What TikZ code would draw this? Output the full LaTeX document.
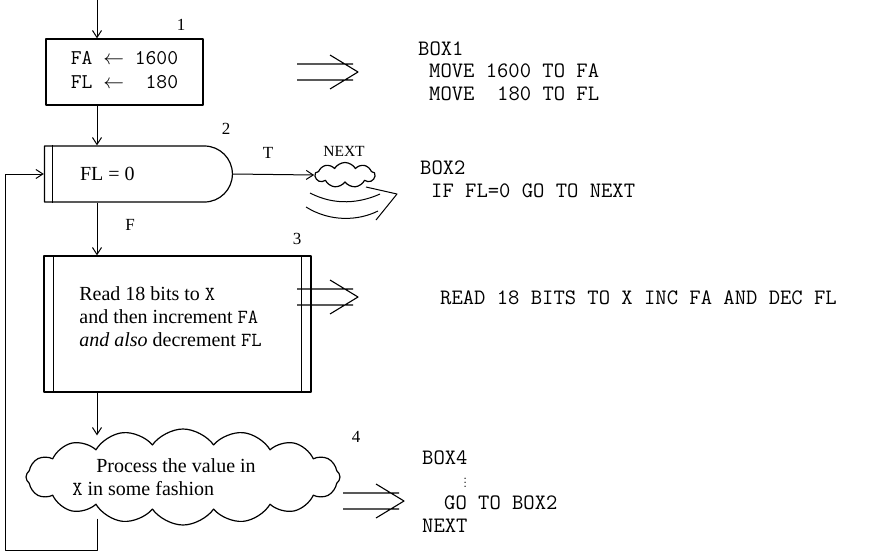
\documentclass[tikz,border=0pt]{standalone}
\usepackage{fontspec}
\setmainfont{Liberation Serif}
\usetikzlibrary{arrows.meta,shapes.misc,shapes.symbols}

\tikzset{
  box/.style={draw, line width=1.2pt, rectangle, inner sep=0pt},
  test/.style={draw, line width=1.2pt, rounded rectangle, rounded rectangle west arc=none, inner sep=0pt},
  blob/.style={draw, line width=1.2pt, cloud, cloud ignores aspect, inner sep=0pt},
  flow/.style={line width=1pt, ->},
  num/.style={font=\fontsize{17}{17}\selectfont, inner sep=0pt},
  code/.style={font=\fontsize{22}{22.5}\ttfamily, anchor=base west, align=left, inner sep=0pt},
}

\begin{document}
\begin{tikzpicture}[x=1pt, y=-1pt, >={Straight Barb[length=7pt,width=9pt]}, line join=round, font=\fontsize{20}{23}\selectfont]
                \useasboundingbox (0,0) rectangle (869,552);
                \coordinate (spine) at (97,0);
                % flow chart
                \node[box, minimum width=157, minimum height=66, font=\fontsize{21}{24}\ttfamily] (box1) at (124.5,72)
                    {\begin{tabular}{@{}l@{\ }c@{\ }r@{}}FA & $\leftarrow$ & 1600\\ FL & $\leftarrow$ & 180\end{tabular}};
                \node[test, minimum width=188, minimum height=56] (box2) at (138,174) {\makebox[116pt][l]{FL = 0}};
                \draw[line width=1.2pt] ([xshift=9pt]box2.north west) -- ([xshift=9pt]box2.south west);
                \node[box, minimum width=267, minimum height=136, align=left] (box3) at (177.5,324)
                    {Read 18 bits to \texttt{X}\\ and then increment \texttt{FA}\\ \textit{and also} decrement \texttt{FL}\hspace*{14pt}\mbox{}\\[-9pt]\mbox{}};
                \draw[line width=1.2pt] ([xshift=10pt]box3.north west) -- ([xshift=10pt]box3.south west);
                \draw[line width=1.2pt] ([xshift=-10pt]box3.north east) -- ([xshift=-10pt]box3.south east);
                \node[blob, cloud puffs=16, cloud puff arc=110, minimum width=314, minimum height=96, align=left] (proc) at (183,477)
                    {\hspace*{24pt}Process the value in\hspace*{38pt}\mbox{}\\ \texttt{X} in some fashion};
                \node[blob, cloud puffs=9, cloud puff arc=120, minimum width=60, minimum height=25] (next) at (345,175) {};
                % labels
                \node[num] (l1) at (181,25) {1};
                \node[num] (l2) at (226,129) {2};
                \node[num] (l3) at (297,239) {3};
                \node[num] (l4) at (356,437) {4};
                \node[num] (lt) at (268,153) {T};
                \node[num] (lf) at (130,225) {F};
                \node[num, font=\fontsize{15.5}{16}\selectfont] (lnext) at (344,151) {NEXT};
                % connectors
                \coordinate (entry) at (97,0);
                \coordinate (loop) at (5,550);
                \draw[flow] (entry) -- (box1.north -| spine);
                \draw[flow] (box1.south -| spine) -- (box2.north -| spine);
                \draw[flow] (box2.east) -- (next.west);
                \draw[flow] (box2.south -| spine) -- (box3.north -| spine);
                \draw[flow, shorten >=-7pt] (box3.south -| spine) -- (proc.north -| spine);
                \draw[flow, shorten <=-7pt] (proc.south -| spine) |- (loop) |- (box2.west);
                % curved double arrow under NEXT
                \draw[line width=1pt] (310,193) .. controls (335,206) and (360,203) .. (380,194);
                \draw[line width=1pt] (306,207) .. controls (330,222) and (358,221) .. (378,211);
                \draw[line width=1pt] (366,187) -- (397,194) -- (376,220);
                % double arrows
                \foreach \x/\y in {297/72, 297/297, 343/501}
                    \draw[line width=1.1pt] (\x,\y-8) -- ++(56,0) (\x,\y+8) -- ++(56,0) (\x+33,\y-17) -- (\x+61,\y) -- (\x+33,\y+17);
                % code
                \node[code] (c1) at (418,100) {BOX1\\\hspace*{11pt}MOVE 1600 TO FA\\\hspace*{11pt}MOVE\ \ 180 TO FL};
                \node[code] (c2) at (420,197) {BOX2\\\hspace*{11pt}IF FL=0 GO TO NEXT};
                \node[code] (c3) at (440,304) {READ 18 BITS TO X INC FA AND DEC FL};
                \node[code] (c4) at (422,532) {BOX4\\\hspace*{40pt}{\fontsize{12}{12}\selectfont$\vdots$}\\\hspace*{22pt}GO TO BOX2\\NEXT};
            \end{tikzpicture}
\end{document}
